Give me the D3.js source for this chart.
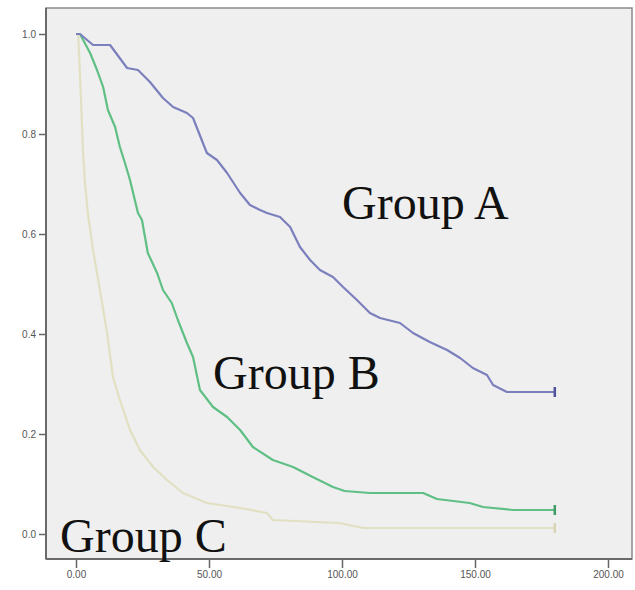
<!DOCTYPE html>
<html lang="en">
<head>
  <meta charset="utf-8">
  <title>survival curves</title>
  <style>
  * { margin:0; padding:0; }
  body { background:#fff; }
  .tick text { font-family: Arial, "Liberation Sans", sans-serif; font-size: 10px; fill:#555; }
  .tick line { stroke:#666; stroke-width:1.5px; }
  .label { font-family: "Liberation Serif", "DejaVu Serif", serif; font-size: 48px; fill:#111; }
  </style>
  <script src="https://d3js.org/d3.v7.min.js"></script>
</head>
<body>
  <div id="chart"></div>
  <script type="text/javascript">
  // time (x) and survival (y)
  var timeA=[0,1.5,6.4,12.8,19.2,23.3,27.8,32.7,36.5,41.7,44,49.2,53,56.8,61.7,65.4,69.2,71.8,76.7,80.5,84.2,88,91.7,96.6,100.4,105.6,110.5,114.3,121.8,126.7,133,139.5,144.4,149.2,154.5,156.8,160.5,162,180];
  var survA=[1,1,0.978,0.978,0.932,0.928,0.904,0.872,0.854,0.842,0.832,0.762,0.748,0.722,0.682,0.658,0.648,0.642,0.634,0.614,0.574,0.548,0.528,0.514,0.494,0.468,0.442,0.432,0.422,0.402,0.384,0.368,0.352,0.332,0.318,0.298,0.288,0.284,0.284];
  var timeB=[0,1.5,5.3,7.9,10.2,12,14.7,16.5,18.4,20.3,23.3,24.8,27,30.5,32.7,36,38.3,41.7,44,46.6,51.5,56.8,61.7,66.5,74,81.6,89,96.6,101,110.5,130.5,135.7,148,153,164.3,180];
  var survB=[1,1,0.962,0.928,0.894,0.848,0.814,0.774,0.742,0.708,0.642,0.628,0.562,0.522,0.488,0.462,0.428,0.382,0.354,0.288,0.254,0.234,0.208,0.174,0.148,0.134,0.114,0.094,0.086,0.082,0.082,0.07,0.062,0.054,0.048,0.048];
  var timeC=[0,0.8,1.9,2.6,3.4,4.5,6.4,9,11.7,13.9,16.5,20.3,24,29,34.2,40.2,49.2,61.7,71.8,74,99,108,180];
  var survC=[1,1,0.868,0.768,0.7,0.64,0.568,0.488,0.402,0.314,0.268,0.208,0.168,0.134,0.108,0.082,0.062,0.052,0.042,0.028,0.022,0.012,0.012];
  var xTicks=[0,50,100,150,200];
  var yTicks=[0,0.2,0.4,0.6,0.8,1.0];
  var groups=["Group A","Group B","Group C"];

  var w=635, h=590;
  var svg=d3.select("#chart").append("svg").attr("width",w).attr("height",h);

  var x=d3.scaleLinear().domain([0,200]).range([76,608]);
  var y=d3.scaleLinear().domain([0,1]).range([534,34]);
  var fLeft=46, fRight=632, fTop=8, fBottom=559;

  svg.append("rect")
    .attr("x",fLeft).attr("y",fTop)
    .attr("width",fRight-fLeft).attr("height",fBottom-fTop)
    .style("fill","#efefef")
    .style("stroke","#8a8a8a")
    .style("stroke-width",1.5);

  var yAxis=d3.axisLeft(y).tickValues(yTicks).tickFormat(d3.format(".1f")).tickSize(7).tickPadding(3);
  var gy=svg.append("g").attr("transform","translate("+fLeft+",0)").call(yAxis);
  gy.select(".domain").remove();
  svg.append("line").attr("x1",fLeft).attr("x2",fLeft).attr("y1",fTop).attr("y2",fBottom)
    .style("stroke","#6a6a6a").style("stroke-width",2);

  var xAxis=d3.axisBottom(x).tickValues(xTicks).tickFormat(d3.format(".2f")).tickSize(9).tickPadding(3);
  var gx=svg.append("g").attr("transform","translate(0,"+fBottom+")").call(xAxis);
  gx.select(".domain").remove();
  svg.append("line").attr("x1",fLeft).attr("x2",fRight).attr("y1",fBottom).attr("y2",fBottom)
    .style("stroke","#6a6a6a").style("stroke-width",2);

  var series=[
    {t:timeC,s:survC,c:"#e2e0c2",m:"#d8d4b4"},
    {t:timeB,s:survB,c:"#5fbf84",m:"#3f9a66"},
    {t:timeA,s:survA,c:"#7b80bd",m:"#50549e"}
  ];
  // many small KM steps look like a jagged slope at this size
  var line=d3.line().curve(d3.curveLinear)
    .x(function(d){return x(d[0]);})
    .y(function(d){return y(d[1]);});

  series.forEach(function(d){
    var pts=d.t.map(function(t,i){return [t,d.s[i]];});
    svg.append("path").attr("d",line(pts))
      .style("fill","none").style("stroke",d.c).style("stroke-width",2.2)
      .style("stroke-linejoin","round");
    var last=pts[pts.length-1];
    svg.append("line")
      .attr("x1",x(last[0])).attr("x2",x(last[0]))
      .attr("y1",y(last[1])-5).attr("y2",y(last[1])+5)
      .style("stroke",d.m).style("stroke-width",2.5);
  });

  var labelPos=[[100,0.63],[51.5,0.29],[-6,-0.035]];
  svg.selectAll(".label").data(groups).enter()
    .append("text").attr("class","label")
    .attr("x",function(d,i){return x(labelPos[i][0]);})
    .attr("y",function(d,i){return y(labelPos[i][1]);})
    .text(function(d){return d;});
  </script>
</body>
</html>
